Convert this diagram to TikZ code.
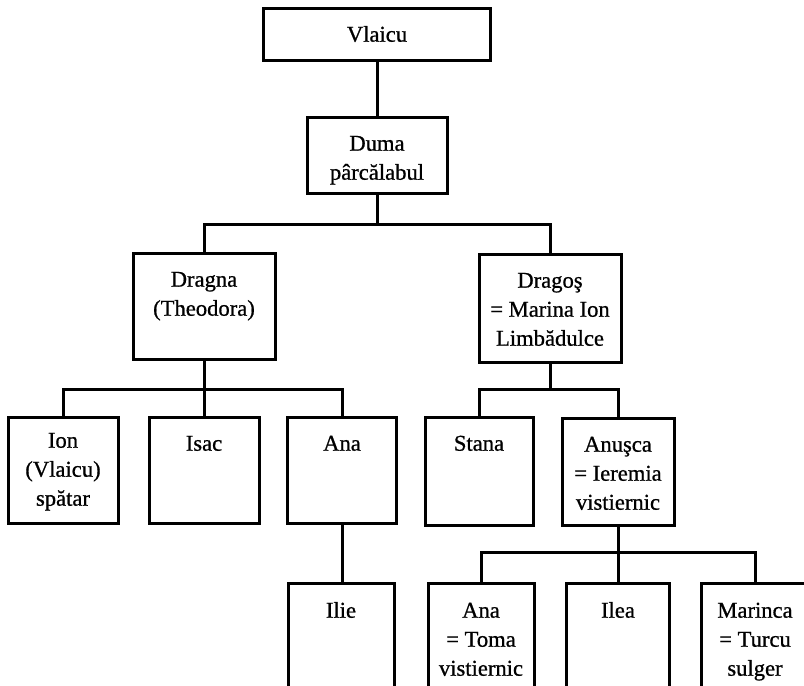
\documentclass[tikz,border=0pt]{standalone}
\usepackage{fontspec}
\setmainfont{Liberation Serif}[FakeBold=0.8]
\usetikzlibrary{positioning}
\newcommand\fs{\rule{0pt}{16pt}}
\begin{document}
\begin{tikzpicture}[x=1pt,y=-1pt,
  box/.style={draw, line width=3pt, inner sep=0pt},
  txt/.style={inner sep=0pt, align=center, anchor=north, font=\fontsize{22.6}{29}\selectfont},
  link/.style={line width=3pt}]
\useasboundingbox (0,0) rectangle (804,686);
\clip (0,0) rectangle (804,686);
% boxes
\node[box, minimum width=227pt, minimum height=52pt] (vlaicu) at (377,34) {};
\node[box, minimum width=140pt, minimum height=76pt] (duma) at (377,155) {};
\node[box, minimum width=142pt, minimum height=106pt] (dragna) at (204,306) {};
\node[box, minimum width=142pt, minimum height=108pt] (dragos) at (550,308) {};
\node[box, minimum width=110pt, minimum height=106pt] (ion) at (63,470) {};
\node[box, minimum width=110pt, minimum height=106pt] (isac) at (204,470) {};
\node[box, minimum width=109pt, minimum height=106pt] (ana) at (342,470) {};
\node[box, minimum width=108pt, minimum height=108pt] (stana) at (479,471) {};
\node[box, minimum width=112pt, minimum height=107pt] (anusca) at (618,471.5) {};
\node[box, minimum width=106pt, minimum height=140pt] (ilie) at (341,653) {};
\node[box, minimum width=106pt, minimum height=140pt] (ana2) at (481,653) {};
\node[box, minimum width=103pt, minimum height=140pt] (ilea) at (618,653) {};
\node[box, minimum width=108pt, minimum height=140pt] (marinca) at (755,653) {};
% texts
\node[txt, below=19pt of vlaicu.north] (tvlaicu) {\fs Vlaicu};
\node[txt, below=19pt of duma.north] (tduma) {\fs Duma\\pârcălabul};
\node[txt, below=19pt of dragna.north] (tdragna) {\fs Dragna\\(Theodora)};
\node[txt, below=19pt of dragos.north] (tdragos) {\fs Dragoş\\= Marina Ion\\Limbădulce};
\node[txt, below=16pt of ion.north] (tion) {\fs Ion\\(Vlaicu)\\spătar};
\node[txt, below=19pt of isac.north] (tisac) {\fs Isac};
\node[txt, below=19pt of ana.north] (tana) {\fs Ana};
\node[txt, below=19pt of stana.north] (tstana) {\fs Stana};
\node[txt, below=19pt of anusca.north] (tanusca) {\fs Anuşca\\= Ieremia\\vistiernic};
\node[txt, below=20pt of ilie.north] (tilie) {\fs Ilie};
\node[txt, below=20pt of ana2.north] (tana2) {\fs Ana\\= Toma\\vistiernic};
\node[txt, below=20pt of ilea.north] (tilea) {\fs Ilea};
\node[txt, below=20pt of marinca.north] (tmarinca) {\fs Marinca\\= Turcu\\sulger};
% junctions
\coordinate (j1) at (377,224);
\coordinate (j3) at (550,389);
% connectors
\draw[link] (vlaicu) -- (duma);
\draw[link] (duma.south) -- (j1);
\draw[link] (dragna.north) |- (j1) -| (dragos.north);
\draw[link] (dragna.south) -- (isac.north);
\draw[link] (ion.north) |- (j3 -| isac.north) -| (ana.north);
\draw[link] (dragos.south) -- (j3);
\draw[link] (stana.north) |- (j3) -| (anusca.north);
\draw[link] (ana.south) -- (ana.south |- ilie.north);
\draw[link] (anusca.south) -- (ilea.north);
\draw[link] (ana2.north) -- ++(0,-29) -| (marinca.north);
\end{tikzpicture}
\end{document}
